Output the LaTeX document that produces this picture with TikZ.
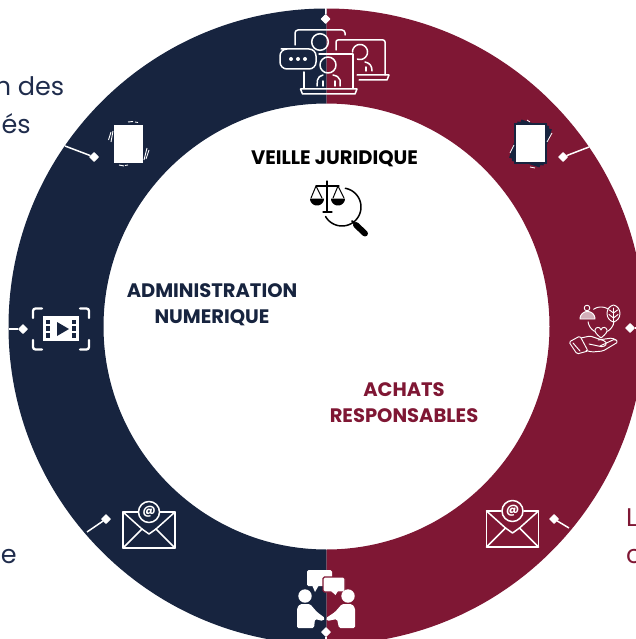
\documentclass[tikz,border=0pt]{standalone}
\usepackage{fontspec}
\setmainfont{Poppins}
\usetikzlibrary{shapes.geometric}
\definecolor{navy}{HTML}{17243F}
\definecolor{wine}{HTML}{7F1734}
\definecolor{ink}{HTML}{1F2C4C}
\newcommand{\arcpath}[5]{plot[domain=#4:#5,samples=40] ({#1+#3*cos(\x)},{#2+#3*sin(\x)})}
\tikzset{
  dot/.style={draw=white,line width=1pt,line join=round,fill=white,diamond,minimum size=9pt,inner sep=0pt},
  link/.style={draw=white,line width=1.5pt},
  title/.style={font=\fontsize{19.5}{26.5}\selectfont\bfseries,align=center,inner sep=0pt},
  cut/.style={font=\fontsize{25.5}{26}\selectfont,inner sep=0pt},
  ic/.style={draw=white,line width=1.5pt,line join=round,line cap=round},
  thin ic/.style={draw=white,line width=.95pt,line join=round,line cap=round},
  env/.pic={
    \draw[ic] (-26,-18) rectangle (26,18);
    \draw[ic] (-26,-18) -- (-7,-1) -- (0,4) -- (7,-1) -- (26,-18);
    \draw[ic] (-26,18) -- (-7,-1) (26,18) -- (7,-1);
    \fill[pic actions] (0,-18) circle[radius=11pt];
    \draw[ic] (0,-18) circle[radius=10.5pt];
    \node[font=\fontsize{12.5}{12}\selectfont\bfseries,text=white,inner sep=0pt] at (0,-18.5) {@};
  },
}
\begin{document}
\begin{tikzpicture}[x=1pt,y=-1pt]
\useasboundingbox (0,0) rectangle (636,639);
\clip (0,0) rectangle (636,639);
\coordinate (c) at (326.5,326.5);
\begin{scope}
  \clip (0,0) rectangle (326.5,639);
  \fill[navy,even odd rule] (c) circle[radius=318pt] (c) circle[radius=223pt];
\end{scope}
\begin{scope}
  \clip (326.5,0) rectangle (636,639);
  \fill[wine,even odd rule] (c) circle[radius=318pt] (c) circle[radius=223pt];
\end{scope}

% cropped side texts
\node[cut,text=ink,anchor=base east] (t1) at (64.5,96) {n des};
\node[cut,text=ink,anchor=base east] (t2) at (31,134) {és};
\node[cut,text=ink,anchor=base east] (t3) at (17,563) {e};
\node[cut,text=wine,anchor=base west] (t4) at (626,526) {L};
\node[cut,text=wine,anchor=base west] (t5) at (626,563) {c};

% titles
\node[title,text=black] (veille) at (334.5,159) {VEILLE JURIDIQUE};
\node[title,text=navy] (admin) at (212,304.5) {ADMINISTRATION\\NUMERIQUE};
\node[title,text=wine] (achats) at (404,402.5) {ACHATS\\RESPONSABLES};

% connectors
\coordinate (e1) at (326,8);      \node[dot] (d1) at (325.5,19) {};
\coordinate (e2) at (589,147);    \node[dot] (d2) at (563,157) {};
\coordinate (e3) at (636,328);    \node[dot] (d3) at (630,328) {};
\coordinate (e4) at (569,528);    \node[dot] (d4) at (554,519) {};
\coordinate (e5) at (326,639);    \node[dot] (d5) at (326,632) {};
\coordinate (e6) at (87,532);     \node[dot] (d6) at (106,519) {};
\coordinate (e7) at (9,329);      \node[dot] (d7) at (23,329) {};
\coordinate (e8) at (65,146);     \node[dot] (d8) at (94,157) {};
\foreach \a/\b in {e1/d1,e2/d2,e3/d3,e4/d4,e5/d5,e6/d6,e7/d7,e8/d8} \draw[link] (\a) -- (\b);

% top: video call
\draw[ic,rounded corners=3pt] (295,45) -- (295,30) -- (345,30) -- (345,35);
\draw[ic] (320,42) circle[radius=8.3pt];
\draw[ic,rounded corners=2pt] (336,50) -- (336,40) -- (385,40) -- (385,75);
\draw[ic] (357,75) -- (389,75) -- (387,80) -- (359,80);
\draw[ic] \arcpath{360}{52}{7.5}{-180}{110};
\draw[ic] (365,62) .. controls (370,63) and (372,66) .. (372,71);
\draw[ic] (366,67) -- (366,71);
\draw[ic,rounded corners=7pt] (288,49) -- (280,49) -- (280,69) -- (316,69) -- (316,49) -- cycle;
\foreach \x in {291,298,305} \fill[white] (\x,59) circle[radius=2pt];
\draw[ic] (304,72) -- (304,88) (319,54) -- (353,54) -- (353,88);
\draw[ic] (300.5,89) -- (357,89) -- (355,94) -- (302.5,94) -- cycle;
\draw[ic] (328,65) circle[radius=8pt];
\draw[ic] (317,86) -- (317.5,80) .. controls (318,77) and (320,76) .. (323,75)
          (333,75) .. controls (337,76) and (339,77) .. (340,80) -- (340,86);
\draw[ic] (323,86) -- (323,81) (335,86) -- (335,81);

% left paper stack
\fill[white] (113.5,125) rectangle (143,163);
\draw[white,line width=.9pt] (108.5,140) -- (111,132) (111,142) -- (113,131)
  (146,159) -- (149,150) (144,160) -- (147,148)
  (128,122) -- (133,121.5) (135,122) -- (138,122.5)
  (119,165) -- (124,166) (125,165.5) -- (128,165);
% right paper stack
\begin{scope}[shift={(530.5,143.5)}]
  \foreach \r in {-18,-8} \fill[navy,rotate=\r] (-16,-20) rectangle (16,20);
  \draw[navy,fill=white,line width=1.4pt] (-15.5,-19.5) rectangle (15.5,19.5);
\end{scope}
\draw[white,line width=.8pt] (510,153) -- (514,145) (547,142) -- (552,133)
  (527,120) -- (530,122) (530,167) -- (535,168);

% film icon
\fill[white] (43,316) rectangle (79,341);
\foreach \y in {319.5,326,333} {
  \fill[navy] (46,\y) rectangle (50,\y+4.5);
  \fill[navy] (72,\y) rectangle (76,\y+4.5);
}
\fill[navy] (57,322) -- (69,329) -- (57,336) -- cycle;
\begin{scope}[rounded corners=2.5pt,line cap=round,line width=2.3pt]
  \draw[white] (33,318) -- (33,308.5) -- (42,308.5);
  \draw[white] (80,308.5) -- (89,308.5) -- (89,318);
  \draw[white] (33,340) -- (33,349.5) -- (42,349.5);
  \draw[white] (80,349.5) -- (89,349.5) -- (89,340);
\end{scope}

% envelopes
\pic[fill=navy] at (149,530) {env};
\pic[fill=wine] at (512.5,529) {env};

% care icon
\draw[thin ic] \arcpath{601}{320}{13}{-125}{-55};
\draw[thin ic] \arcpath{601}{320}{13}{172}{120};
\draw[thin ic] \arcpath{601}{320}{13}{8}{60};
\draw[thin ic] (587,308) circle[radius=2.8pt];
\fill[white,opacity=.65] \arcpath{587.5}{319}{7.5}{180}{360} -- cycle;
\draw[thin ic] \arcpath{587.5}{319}{7.5}{180}{360} -- cycle;
\draw[thin ic,fill=wine] (613.5,305) .. controls (609,306) and (607,310) .. (607,313.5) .. controls (607,318) and (610,321) .. (613.5,322) .. controls (617,321) and (620,318) .. (620,313.5) .. controls (620,310) and (618,306) .. (613.5,305);
\draw[thin ic] (613.5,308) -- (613.5,325) (613.5,313) -- (609.5,310) (613.5,313) -- (617.5,310) (613.5,318) -- (609,314.5) (613.5,318) -- (618,314.5);
\draw[thin ic] (601,338) .. controls (596,334) and (594.5,331.5) .. (595,330) .. controls (595.5,327) and (600,326) .. (601,330) .. controls (602,326) and (606.5,327) .. (607,330) .. controls (607.5,331.5) and (606,334) .. (601,338);
\draw[thin ic,rounded corners=1.5pt] (569,342) -- (580,336) -- (588,351) -- (577,354) -- cycle;
\draw[thin ic] (573,343) -- (580,351);
\draw[thin ic,rounded corners=1.5pt] (581,338) -- (590,336) -- (605,341) -- (607,344) -- (603,347) -- (589,344);
\draw[thin ic,rounded corners=1.5pt] (600,346) -- (615,339) -- (618,342) -- (603,351) -- (592,352) -- (586,350.5);
\draw[thin ic,rounded corners=1.5pt] (598,340) -- (612,338) -- (616,340);

% handshake
\fill[white,rounded corners=1.5pt] (307,570) rectangle (332,586);
\fill[white] (312,585) -- (315,592) -- (319,585) -- cycle;
\fill[white] (305,596) circle[radius=6.7pt];
\fill[white,rounded corners=1.5pt] (297,608) -- (300,604) -- (310,604) -- (317,612) -- (325,618) -- (323,621) -- (315,619) -- (314,628) -- (297,628) -- cycle;
\draw[wine,fill=white,line width=1.2pt,rounded corners=1.5pt] (323,577) rectangle (345,592);
\fill[white] (331,591) -- (335.5,595) -- (338,591) -- cycle;
\fill[white] (348,596) circle[radius=6.7pt];
\fill[white,rounded corners=1.5pt] (355,628) -- (355,608) -- (352,604) -- (342,604) -- (335,612) -- (326,618) -- (327,621) -- (337,619) -- (339,628) -- cycle;

% scales and magnifier
\begin{scope}[black,line cap=round]
  \draw[line width=1.3pt] (327,181) -- (327,212) (323,212) -- (332,212);
  \draw[line width=1.3pt] (316,186) -- (339,186);
  \draw[line width=1pt] (316,186) -- (311,198) (316,186) -- (322,198) (338,186) -- (333,198) (338,186) -- (344,198);
  \fill \arcpath{317}{198.5}{7}{0}{180} -- cycle;
  \fill \arcpath{338}{198.5}{7}{0}{180} -- cycle;
  \draw[line width=1.5pt] \arcpath{342}{207}{19}{-80}{150};
  \draw[line width=6pt] (356,225) -- (365,233.5);
  \draw[line width=2pt] (352,221) -- (356,225);
\end{scope}
\end{tikzpicture}
\end{document}
